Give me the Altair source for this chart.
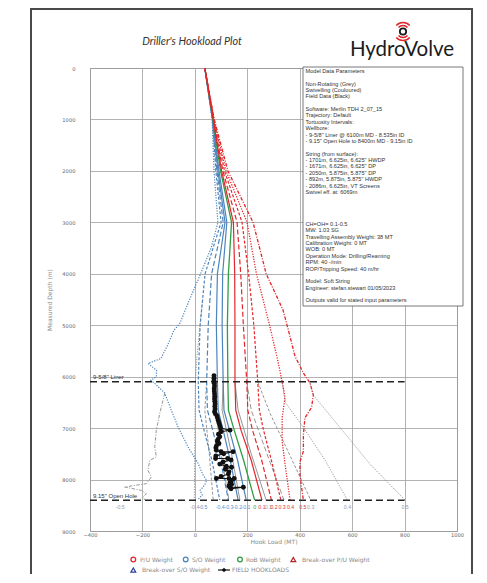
import altair as alt
import pandas as pd

# ---------------- data (hook load in MT vs measured depth in m) ----------------
depth_main = [0, 1000, 2000, 3000, 4000, 5000, 6100, 6650, 7040, 7625, 8400]
rob_ff0 = [38, 69, 98, 140, 128, 124, 126, 128, 150, 186, 228]
so_ff01 = [38, 68, 92, 122, 106, 104, 108, 111, 132, 163, 196]
so_ff02 = [38, 68, 88, 115, 86, 82, 86, 89, 108, 135, 165]
so_ff03 = [38, 67, 84, 108, 64, 51, 45, 48, 68, 98, 128]
so_ff04 = [38, 67, 80, 100, 39, 20, 13, 16, 35, 65, 95]
pu_ff01 = [38, 70, 102, 147, 152, 153, 153, 156, 176, 215, 256]
pu_ff02 = [38, 71, 107, 161, 175, 185, 198, 202, 220, 255, 292]
pu_ff03 = [38, 72, 113, 180, 205, 225, 240, 246, 262, 292, 328]

pu_ff04_depth = [0, 1000, 2000, 3000, 4000, 5000, 5700, 6100, 6400, 6800, 7250, 7700, 8100, 8400]
pu_ff04 = [38, 73, 119, 199, 235, 285, 317, 333, 344, 333, 333, 344, 355, 363]
pu_ff05_depth = [0, 1000, 2000, 3000, 4000, 4700, 5100, 5600, 5930, 6120, 6360, 6600, 6800,
                 7130, 7450, 7650, 7900, 8150, 8400]
pu_ff05 = [38, 74, 126, 222, 272, 336, 357, 382, 414, 439, 452, 445, 420, 414, 414, 401, 401, 407, 414]
so_ff05_depth = [0, 1000, 2000, 3000, 3500, 4000, 4500, 4960, 5100, 5400, 5650, 5740, 5800, 5875,
                 6000, 6070, 6130, 6320, 6650, 6977, 7366, 7683, 7900, 8013, 8100, 8210, 8300, 8400]
so_ff05 = [38, 66, 73, 88, 62, 22, -20, -57, -80, -105, -130, -178, -165, -146, -147, -168, -153,
           -115, -90, -64, -26, 12, 30, 45, 38, 20, 28, 10]

# non-rotating (grey) curves
nr_pu01_depth = [6100, 6650, 7500, 8400]
nr_pu01 = [153, 165, 215, 272]
nr_pu02_depth = [6100, 6650, 7500, 8400]
nr_pu02 = [198, 215, 275, 340]
nr_pu03_depth = [6100, 6715, 7500, 8400]
nr_pu03 = [240, 287, 360, 442]
nr_pu04_depth = [6100, 6500, 6980, 7625, 8400]
nr_pu04 = [333, 345, 413, 497, 582]
nr_pu05_depth = [6120, 6360, 7300, 7700, 8400]
nr_pu05 = [439, 452, 604, 668, 802]
nr_so01_depth = [6100, 6650, 7500, 8400]
nr_so01 = [108, 104, 140, 172]
nr_so02_depth = [6100, 6650, 7500, 8400]
nr_so02 = [86, 80, 100, 130]
nr_so03_depth = [6100, 6650, 7500, 8400]
nr_so03 = [45, 38, 55, 70]
nr_so04_depth = [4500, 5100, 5600, 6100, 7000, 8400]
nr_so04 = [30, 18, 8, 2, 0, -2]
nr_so05_depth = [6320, 6716, 7041, 7366, 7560, 7625, 7820, 7950, 8080, 8145, 8210, 8275, 8340, 8400]
nr_so05 = [-115, -134, -147, -153, -147, -172, -179, -166, -185, -268, -204, -185, -198, -190]

# field hookloads
fh_depth = [5980, 6030, 6080, 6130, 6180, 6230, 6280, 6330, 6380, 6430, 6480, 6530, 6580, 6630, 6680,
            6720, 6760, 6800, 6850, 6900, 6950, 7000, 7040, 7070, 7120, 7170, 7220, 7260, 7300, 7340,
            7380, 7430, 7460, 7460, 7500, 7540, 7590, 7590, 7620, 7660, 7700, 7740, 7760, 7800, 7850,
            7890, 7940, 7980, 7980, 7980, 8020, 8060, 8090, 8120, 8150, 8150, 8180]
fh_load = [73, 73, 73, 74, 75, 74, 74, 75, 76, 75, 76, 77, 76, 77, 75,
           78, 84, 86, 89, 92, 95, 98, 134, 100, 90, 95, 88, 86, 92, 83,
           80, 82, 100, 146, 110, 80, 79, 125, 138, 108, 95, 120, 140, 116, 130,
           128, 100, 82, 130, 150, 140, 134, 140, 130, 134, 185, 138]

# casing points
casing_depth = [6100, 8400]
casing_label = ['9-5/8" Liner', '9.15" Open Hole']

# friction factor labels under the open hole line
ff_text = ["-0.5", "-0.4", "-0.5", "-0.4", "-0.3", "-0.2", "-0.1", "0", "0.1", "0.1", "0.2",
           "0.3", "0.4", "0.5", "0.3", "0.4", "0.5"]
ff_x = [-285, 0, 31, 97, 130, 163, 195, 228, 256, 280, 302, 333, 365, 412, 442, 582, 802]
ff_group = ["grey", "grey", "so", "so", "so", "so", "so", "rob", "pu", "grey", "pu",
            "pu", "pu", "pu", "grey", "grey", "grey"]
ff_label_depth = 8530

# parameter box text: (first line number, lines)
box_blocks = [
    (0, ["Model Data Parameters"]),
    (2, ["Non-Rotating (Grey)", "Swivelling (Couloured)", "Field Data (Black)"]),
    (6, ["Software: Merlin TDH 2_07_15", "Trajectory: Default", "Tortuosity Intervals:", "Wellbore:",
         ' - 9-5/8" Liner @ 6100m MD - 8.535in ID', ' - 9.15" Open Hole to 8400m MD - 9.15in ID']),
    (13, ["String (from surface):", ' - 1701m, 6.625in, 6.625" HWDP', ' - 1671m, 6.625in, 6.625" DP',
          ' - 2050m, 5.875in, 5.875" DP', ' - 892m, 5.875in, 5.875" HWDP', " - 2086m, 6.625in, VT Screens",
          "Swivel eff. at: 6069m"]),
    (24, ["CH=OH= 0.1-0.5", "MW: 1.03 SG", "Travelling Assembly Weight: 38 MT", "Calibration Weight: 0 MT",
          "WOB: 0 MT", "Operation Mode: Drilling/Reaming", "RPM: 40 -/min", "ROP/Tripping Speed: 40 m/hr"]),
    (33, ["Model: Soft String", "Engineer: stefan.stewart 01/05/2023"]),
    (36, ["Outputs valid for stated input parameters"]),
]

legend_labels = ["P/U Weight", "S/O Weight", "RoB Weight", "Break-over P/U Weight",
                 "Break-over S/O Weight", "FIELD HOOKLOADS"]

# ---------------- styling ----------------
RED, BLUE, GREEN, GREY = "#e3262b", "#4d84bd", "#2f9e44", "#8a8a8a"
LABEL_COL = {"grey": "#9a9a9a", "so": "#5b8fc7", "rob": "#3a9a3a", "pu": "#e03535"}
W, H = 367, 463
LINE_H = 6.38

xscale = alt.Scale(domain=[-400, 1000], nice=False, zero=False)
yscale = alt.Scale(domain=[0, 9000], reverse=True, nice=False, zero=False)
x_axis = alt.Axis(values=list(range(-400, 1001, 200)), format="d", grid=True, ticks=False, tickSize=0,
                  domain=False, labelPadding=1, titlePadding=1.5, labelFlush=False, labelOverlap=False)
y_axis = alt.Axis(values=list(range(0, 9001, 1000)), format="d", grid=True, ticks=False, tickSize=0,
                  domain=False, labelPadding=15, titlePadding=8.8, labelFlush=False, labelOverlap=False)


def X(field):
    return alt.X(field, type="quantitative", scale=xscale, axis=x_axis, title="Hook Load (MT)")


def Y(field):
    return alt.Y(field, type="quantitative", scale=yscale, axis=y_axis, title="Measured Depth (m)")


def curve(depths, loads, color, dash=None, width=1.2):
    df = pd.DataFrame({"depth": depths, "load": loads, "i": list(range(len(depths)))})
    kw = dict(color=color, strokeWidth=width)
    if dash:
        kw["strokeDash"] = dash
    return alt.Chart(df).mark_line(**kw).encode(x=X("load"), y=Y("depth"), order="i:Q")


DOT = [1.2, 1.4]
DASH = [5, 2.5]
SDASH = [3, 1.8]
DASHDOT = [3.5, 1.5, 1, 1.5]

layers = []
# grey non-rotating curves (behind)
layers += [
    curve(nr_pu01_depth, nr_pu01, GREY, None, 0.9),
    curve(nr_pu02_depth, nr_pu02, GREY, DASH, 0.9),
    curve(nr_pu03_depth, nr_pu03, GREY, SDASH, 0.9),
    curve(nr_pu04_depth, nr_pu04, GREY, DOT, 0.9),
    curve(nr_pu05_depth, nr_pu05, GREY, DOT, 0.9),
    curve(nr_so01_depth, nr_so01, GREY, None, 0.9),
    curve(nr_so02_depth, nr_so02, GREY, DASH, 0.9),
    curve(nr_so03_depth, nr_so03, GREY, SDASH, 0.9),
    curve(nr_so04_depth, nr_so04, GREY, DOT, 0.9),
    curve(nr_so05_depth, nr_so05, GREY, DASHDOT, 0.9),
]
# swivelling (coloured) curves
layers += [
    curve(so_ff05_depth, so_ff05, BLUE, DOT, 1.2),
    curve(depth_main, so_ff04, BLUE, SDASH, 1.2),
    curve(depth_main, so_ff03, BLUE, DASH, 1.2),
    curve(depth_main, so_ff02, BLUE, None, 1.2),
    curve(depth_main, so_ff01, BLUE, None, 1.2),
    curve(depth_main, rob_ff0, GREEN, None, 1.3),
    curve(depth_main, pu_ff01, RED, None, 1.2),
    curve(depth_main, pu_ff02, RED, DASH, 1.2),
    curve(depth_main, pu_ff03, RED, SDASH, 1.2),
    curve(pu_ff04_depth, pu_ff04, RED, DOT, 1.3),
    curve(pu_ff05_depth, pu_ff05, RED, DASHDOT, 1.3),
]

# casing lines
cas_df = pd.DataFrame({"depth": casing_depth, "label": casing_label, "x0": [-400, -400], "x1": [800, 800]})
layers.append(alt.Chart(cas_df).mark_rule(color="#222222", strokeDash=[7, 4], strokeWidth=1.5)
              .encode(y=Y("depth"), x=X("x0"), x2="x1"))
layers.append(alt.Chart(cas_df).mark_text(align="left", baseline="bottom", dx=3, dy=-1.5, fontSize=6,
                                          font="Liberation Sans", color="#333333")
              .encode(y=Y("depth"), x=X("x0"), text="label:N"))

# field hookloads
fh_df = pd.DataFrame({"depth": fh_depth, "load": fh_load, "i": list(range(len(fh_depth)))})
layers.append(alt.Chart(fh_df).mark_line(color="#111111", strokeWidth=1.1)
              .encode(x=X("load"), y=Y("depth"), order="i:Q"))
layers.append(alt.Chart(fh_df).mark_point(shape="circle", filled=True, color="#111111", size=24, opacity=1)
              .encode(x=X("load"), y=Y("depth")))

# friction factor labels
ff_df = pd.DataFrame({"t": ff_text, "x": ff_x, "c": [LABEL_COL[g] for g in ff_group],
                      "depth": [ff_label_depth] * len(ff_text)})
layers.append(alt.Chart(ff_df).mark_text(fontSize=5.2, font="Liberation Sans", baseline="middle")
              .encode(x=X("x"), y=Y("depth"), text="t:N", color=alt.Color("c:N", scale=None)))

one = pd.DataFrame({"k": [0]})

# parameters box
layers.append(alt.Chart(one).mark_rect(fill="white", stroke="#555555", strokeWidth=0.8)
              .encode(x=alt.value(213), x2=alt.value(373), y=alt.value(-1), y2=alt.value(238)))
for start, lines in box_blocks:
    layers.append(alt.Chart(one).mark_text(text=lines, lineHeight=LINE_H, align="left", baseline="top",
                                           font="Liberation Sans", fontSize=5.6, color="#333333")
                  .encode(x=alt.value(215.5), y=alt.value(0.8 + start * LINE_H)))

# page frame, title and logo
layers.append(alt.Chart(one).mark_rect(fillOpacity=0, stroke="#4a4a4a", strokeWidth=2)
              .encode(x=alt.value(-59), x2=alt.value(382), y=alt.value(-59), y2=alt.value(540)))
layers.append(alt.Chart(one).mark_text(text="Driller's Hookload Plot", font="Lato", fontStyle="italic",
                                       fontSize=10.8, color="#333333", align="center", baseline="middle")
              .encode(x=alt.value(102), y=alt.value(-26)))
layers.append(alt.Chart(one).mark_text(text="HydroVolve", font="Lato", fontSize=20.5, color="#1b1b1b",
                                       align="center", baseline="alphabetic")
              .encode(x=alt.value(312), y=alt.value(-12)))
layers.append(alt.Chart(one).mark_point(shape="circle", filled=False, size=40, strokeWidth=1.8,
                                        color="#1b1b1b", opacity=1)
              .encode(x=alt.value(313), y=alt.value(-36.5)))
for r_in, r_out in [(5.3, 6.8), (8.3, 9.8)]:
    for t0, t1 in [(5.45, 7.12), (2.3, 3.98)]:
        layers.append(alt.Chart(one).mark_arc(theta=t0, theta2=t1, radius=r_out, radius2=r_in,
                                              color="#e0262b")
                      .encode(x=alt.value(313), y=alt.value(-36.5)))

# legend (drawn manually below the axis title)
LEG_FONT = dict(font="DejaVu Sans", fontSize=6, color="#8a8a8a", align="left", baseline="middle")
r1, r2 = 491.5, 502
sym = [
    ("circle", RED, False, 43.3, r1), ("circle", BLUE, False, 95.7, r1), ("circle", GREEN, False, 150, r1),
    ("triangle-up", "#b3262b", False, 203.3, r1), ("triangle-up", "#2d40a0", False, 43.3, r2),
    ("diamond", "#111111", True, 134, r2),
]
txt_x = [50, 102, 156, 212, 52, 142]
txt_y = [r1, r1, r1, r1, r2, r2]
for (shape, col, filled, sx, sy), lab, tx, ty in zip(sym, legend_labels, txt_x, txt_y):
    layers.append(alt.Chart(one).mark_point(shape=shape, filled=filled, color=col, size=22,
                                            strokeWidth=1.3, opacity=1)
                  .encode(x=alt.value(sx), y=alt.value(sy)))
    layers.append(alt.Chart(one).mark_text(text=lab, **LEG_FONT)
                  .encode(x=alt.value(tx), y=alt.value(ty)))
layers.append(alt.Chart(one).mark_rule(color="#111111", strokeWidth=1.2)
              .encode(x=alt.value(128), x2=alt.value(140), y=alt.value(r2)))

chart = alt.layer(*layers).properties(
    width=W, height=H,
    autosize=alt.AutoSizeParams(type="none"),
    padding={"left": 82, "top": 60, "right": 22, "bottom": 43},
    background="white",
).configure_view(stroke="#9a9a9a", strokeWidth=1).configure_axis(
    labelFont="DejaVu Sans", labelFontSize=5.2, labelColor="#666666",
    titleFont="DejaVu Sans", titleFontSize=6, titleColor="#8a8a8a", titleFontWeight="normal",
    gridColor="#9e9e9e", gridWidth=0.8,
)

chart.save("out.html", embed_options={"renderer": "svg", "actions": False})
